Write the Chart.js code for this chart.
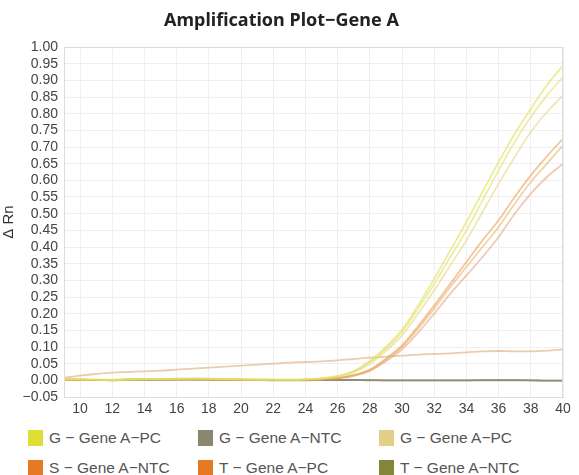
<!DOCTYPE html>
<html>
<head>
<meta charset="utf-8">
<script src="https://cdn.jsdelivr.net/npm/chart.js@4.4.1/dist/chart.umd.min.js"></script>
<style>
  html, body { margin: 0; padding: 0; background: #fff; }
  #wrap { position: relative; width: 579px; height: 475px; overflow: hidden; }
  #chartBox { position: absolute; left: 0; top: 0; width: 579px; height: 420px; }
  .leg { position: absolute; display: flex; align-items: center; font: 15.5px "Liberation Sans", Arial, sans-serif; color: #555; white-space: nowrap; }
  .leg span.sw { display: inline-block; width: 15px; height: 16px; margin-right: 6px; }
</style>
</head>
<body>
<div id="wrap">
  <div id="chartBox"><canvas id="ampChart"></canvas></div>
  <div id="legend"></div>
</div>
<script>
// cycle numbers on x
const cycles = [9, 10, 11, 12, 13, 14, 15, 16, 17, 18, 19, 20, 21, 22, 23, 24, 25, 26, 27, 28, 29, 30, 31, 32, 33, 34, 35, 36, 37, 38, 39, 40];
const xTicks = [10, 12, 14, 16, 18, 20, 22, 24, 26, 28, 30, 32, 34, 36, 38, 40];
const yTicks = [-0.05, 0, 0.05, 0.1, 0.15, 0.2, 0.25, 0.3, 0.35, 0.4, 0.45, 0.5, 0.55, 0.6, 0.65, 0.7, 0.75, 0.8, 0.85, 0.9, 0.95, 1.0];

const legendNames = ["G \u2212 Gene A\u2212PC", "G \u2212 Gene A\u2212NTC", "G \u2212 Gene A\u2212PC", "S \u2212 Gene A\u2212NTC", "T \u2212 Gene A\u2212PC", "T \u2212 Gene A\u2212NTC"];
const legendColors = ["#dede36", "#8a8770", "#e3cf85", "#e57a22", "#e57a22", "#858539"];

// delta Rn per cycle (replicates)
const gPcA = [0.004, 0.003, 0.002, 0.002, 0.003, 0.004, 0.004, 0.005, 0.006, 0.005, 0.004, 0.003, 0.003, 0.002, 0.002, 0.003, 0.006, 0.013, 0.028, 0.058, 0.100, 0.152, 0.225, 0.305, 0.390, 0.475, 0.565, 0.655, 0.740, 0.815, 0.885, 0.945];
const gPcB = [0.003, 0.003, 0.002, 0.001, 0.003, 0.004, 0.004, 0.005, 0.005, 0.005, 0.004, 0.003, 0.002, 0.002, 0.002, 0.003, 0.006, 0.012, 0.026, 0.055, 0.095, 0.145, 0.215, 0.290, 0.370, 0.450, 0.540, 0.630, 0.715, 0.790, 0.855, 0.910];
const gPcC = [0.003, 0.002, 0.002, 0.001, 0.002, 0.003, 0.004, 0.004, 0.005, 0.004, 0.003, 0.003, 0.002, 0.002, 0.001, 0.002, 0.005, 0.011, 0.024, 0.050, 0.088, 0.135, 0.200, 0.270, 0.345, 0.420, 0.505, 0.590, 0.670, 0.745, 0.805, 0.855];
const tPcA = [0.002, 0.002, 0.001, 0.001, 0.002, 0.003, 0.003, 0.003, 0.004, 0.003, 0.002, 0.002, 0.002, 0.001, 0.001, 0.002, 0.003, 0.007, 0.016, 0.032, 0.065, 0.105, 0.162, 0.225, 0.290, 0.355, 0.420, 0.480, 0.550, 0.615, 0.672, 0.725];
const tPcB = [0.002, 0.002, 0.001, 0.001, 0.002, 0.002, 0.003, 0.003, 0.003, 0.003, 0.002, 0.002, 0.001, 0.001, 0.001, 0.002, 0.003, 0.007, 0.015, 0.030, 0.062, 0.100, 0.155, 0.215, 0.280, 0.340, 0.400, 0.460, 0.530, 0.595, 0.650, 0.705];
const tPcC = [0.001, 0.001, 0.001, 0.001, 0.002, 0.002, 0.002, 0.003, 0.003, 0.002, 0.002, 0.001, 0.001, 0.001, 0.001, 0.001, 0.003, 0.006, 0.013, 0.028, 0.057, 0.093, 0.143, 0.200, 0.260, 0.315, 0.370, 0.430, 0.500, 0.560, 0.610, 0.650];
const sNtc = [0.008, 0.014, 0.019, 0.023, 0.025, 0.027, 0.029, 0.032, 0.035, 0.038, 0.041, 0.044, 0.047, 0.050, 0.053, 0.055, 0.057, 0.060, 0.064, 0.068, 0.071, 0.074, 0.077, 0.079, 0.081, 0.084, 0.087, 0.088, 0.087, 0.087, 0.089, 0.093];
const gNtc = [0.002, 0.002, 0.001, 0.001, 0.002, 0.002, 0.002, 0.003, 0.003, 0.002, 0.002, 0.001, 0.001, 0.001, 0.001, 0.001, 0.001, 0.001, 0.001, 0.001, 0.000, 0.000, 0.000, 0.000, 0.000, 0.000, 0.001, 0.001, 0.001, 0.000, -0.001, -0.001];
const tNtc = [0.001, 0.001, 0.001, 0.000, 0.001, 0.001, 0.002, 0.002, 0.002, 0.002, 0.001, 0.001, 0.001, 0.000, 0.000, 0.000, 0.001, 0.001, 0.001, 0.000, 0.000, 0.000, 0.000, 0.000, 0.000, 0.000, 0.000, 0.000, 0.000, 0.000, -0.001, -0.001];

function line(data, color) {
    return {
        data: data,
        borderColor: color,
        borderWidth: 1.8,
        pointRadius: 0,
        fill: false,
        cubicInterpolationMode: "monotone"
    };
}

const datasets = [
    line(gPcA, "rgba(222, 226, 80, 0.6)"),
    line(gPcB, "rgba(226, 224, 110, 0.6)"),
    line(gPcC, "rgba(232, 214, 130, 0.6)"),
    line(tPcA, "rgba(236, 150, 70, 0.55)"),
    line(tPcB, "rgba(232, 175, 95, 0.55)"),
    line(tPcC, "rgba(222, 160, 120, 0.55)"),
    line(sNtc, "rgba(222, 170, 120, 0.6)"),
    line(gNtc, "rgba(138, 135, 112, 0.75)"),
    line(tNtc, "rgba(133, 133, 57, 0.7)")
];

const tickFont = { family: "'Liberation Sans', Arial, sans-serif", size: 14 };

new Chart(document.getElementById("ampChart"), {
    type: "line",
    data: { labels: cycles, datasets: datasets },
    options: {
        responsive: true,
        maintainAspectRatio: false,
        animation: false,
        layout: { padding: { left: 0, right: 16, top: 0, bottom: 0 } },
        plugins: {
            legend: { display: false },
            tooltip: { enabled: false },
            title: {
                display: true,
                text: "Amplification Plot\u2212Gene A",
                color: "#222",
                font: { family: "'Noto Sans', sans-serif", size: 18, weight: "bold", lineHeight: 1.2 },
                padding: { top: 10, bottom: 15.4 }
            }
        },
        scales: {
            x: {
                type: "linear",
                min: 9,
                max: 40,
                afterBuildTicks: s => { s.ticks = xTicks.map(v => ({ value: v })); },
                afterFit: s => { s.height = 23; },
                grid: { color: "#efefef", drawTicks: false },
                border: { color: "#cfcfcf" },
                ticks: { color: "#444", font: tickFont, padding: 4, maxRotation: 0, autoSkip: false }
            },
            y: {
                min: -0.05,
                max: 1.0,
                afterBuildTicks: s => { s.ticks = yTicks.map(v => ({ value: v })); },
                afterFit: s => { s.width = 64; },
                grid: { color: "#efefef", drawTicks: false },
                border: { color: "#cfcfcf" },
                ticks: {
                    color: "#444",
                    font: tickFont,
                    padding: 6,
                    autoSkip: false,
                    callback: v => (v < 0 ? "\u2212" + Math.abs(v).toFixed(2) : v.toFixed(2))
                },
                title: {
                    display: true,
                    text: "\u0394 Rn",
                    color: "#333",
                    font: { family: "'Liberation Sans', Arial, sans-serif", size: 15 },
                    padding: { top: 0, bottom: 2 }
                }
            }
        }
    },
    plugins: [{
        id: "frame",
        afterDraw(chart) {
            const a = chart.chartArea, c = chart.ctx;
            c.save();
            c.strokeStyle = "#dcdcdc";
            c.lineWidth = 1;
            c.strokeRect(a.left + 0.5, a.top + 0.5, a.right - a.left - 1, a.bottom - a.top);
            c.restore();
        }
    }]
});

// legend grid, 3 columns
const legCols = [28, 198, 379];
const legRows = [429, 459];
const legBox = document.getElementById("legend");
legendNames.forEach((name, i) => {
    const d = document.createElement("div");
    d.className = "leg";
    d.style.left = legCols[i % 3] + "px";
    d.style.top = legRows[Math.floor(i / 3)] + "px";
    d.innerHTML = '<span class="sw" style="background:' + legendColors[i] + '"></span>' + name;
    legBox.appendChild(d);
});
</script>
</body>
</html>
